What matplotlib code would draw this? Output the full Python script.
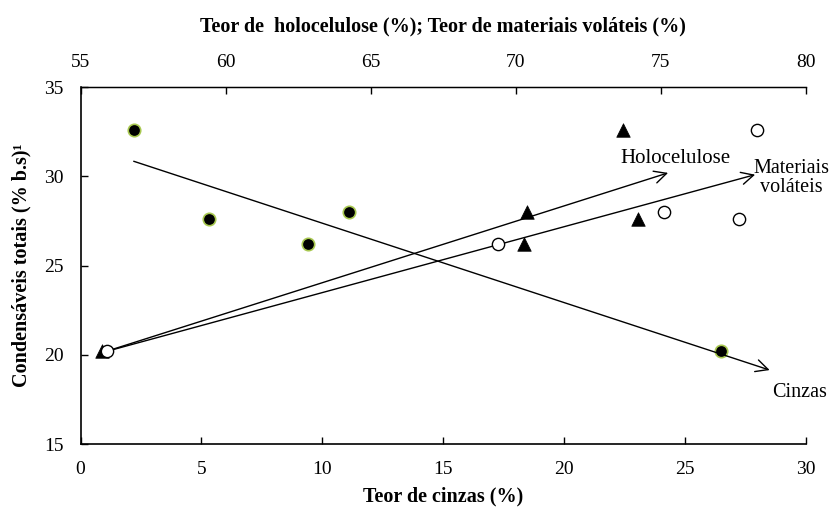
import matplotlib.pyplot as plt

plt.rcParams['font.family'] = ['Liberation Serif', 'DejaVu Serif']

# condensaveis totais (% b.s.) for each sample
cond_cinzas = [32.6, 27.6, 26.2, 28.0, 20.2]
teor_cinzas = [2.2, 5.3, 9.4, 11.1, 26.5]

cond_holo = [32.6, 28.0, 26.2, 27.6, 20.2]
teor_holo = [73.7, 70.4, 70.3, 74.2, 55.75]

cond_vol = [32.6, 28.0, 27.6, 26.2, 20.2]
teor_vol = [78.3, 75.1, 77.7, 69.4, 55.9]

# trend arrows, in bottom-axis units (start x, start y, end x, end y)
seta_cinzas = [2.2, 30.85, 28.5, 19.15]
seta_holo = [0.95, 20.15, 24.3, 30.2]
seta_vol = [0.95, 20.15, 27.9, 30.1]

fig = plt.figure(figsize=(8.3, 5.07), dpi=100)
ax = fig.add_axes([0.097, 0.124, 0.874, 0.704])
ax2 = ax.twiny()

ax.set_xlim(0, 30)
ax.set_ylim(15, 35)
ax2.set_xlim(55, 80)

ax.scatter(teor_cinzas, cond_cinzas, s=80, c='black', edgecolors='#a8c850',
           linewidths=1.2, zorder=3)
ax2.scatter(teor_holo, cond_holo, s=95, marker='^', c='black',
            edgecolors='black', linewidths=0.5, zorder=3)
ax2.scatter(teor_vol, cond_vol, s=78, facecolors='white',
            edgecolors='black', linewidths=1.0, zorder=4)

for s in [seta_cinzas, seta_holo, seta_vol]:
    ax.annotate('', xy=(s[2], s[3]), xytext=(s[0], s[1]),
                arrowprops=dict(arrowstyle='->', lw=1.0, color='black',
                                mutation_scale=22, shrinkA=0, shrinkB=0))

ax.text(24.6, 31.0, 'Holocelulose', fontsize=15, ha='center', va='center')
ax.text(29.4, 29.9, 'Materiais\nvoláteis', fontsize=14.5, ha='center',
        va='center', linespacing=1.0, clip_on=False)
ax.text(29.75, 17.9, 'Cinzas', fontsize=14.5, ha='center', va='center',
        clip_on=False)

ax.set_xticks([0, 5, 10, 15, 20, 25, 30])
ax.set_yticks([15, 20, 25, 30, 35])
ax2.set_xticks([55, 60, 65, 70, 75, 80])

for a in (ax, ax2):
    a.spines['right'].set_visible(False)
    a.tick_params(direction='in', length=5, width=1, labelsize=14, pad=12)
ax.spines['bottom'].set_linewidth(1.2)
ax.spines['left'].set_linewidth(1.2)
ax2.spines['top'].set_linewidth(1.0)
ax2.spines['left'].set_visible(False)
ax2.spines['bottom'].set_visible(False)

ax.set_xlabel('Teor de cinzas (%)', fontsize=14.5, fontweight='bold',
              labelpad=6)
ax.set_ylabel('Condensáveis totais (% b.s)¹', fontsize=14.5, fontweight='bold',
              labelpad=9)
ax2.set_xlabel('Teor de  holocelulose (%); Teor de materiais voláteis (%)',
               fontsize=14.5, fontweight='bold', labelpad=16)

fig.savefig('out.png', dpi=100)
